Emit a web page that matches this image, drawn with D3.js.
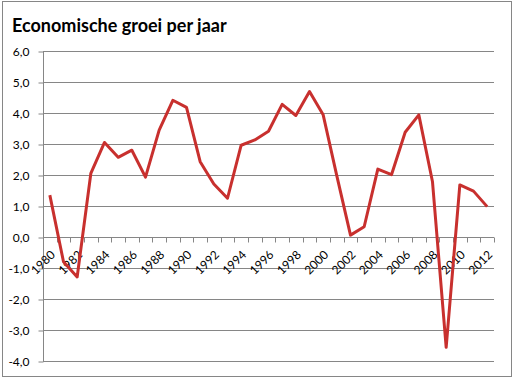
<!DOCTYPE html>
<html><head><meta charset="utf-8">
<script src="https://cdn.jsdelivr.net/npm/d3@7"></script>
<style>
body{margin:0;background:#fff;}
svg text{font-family:Lato,"Open Sans","Liberation Sans",sans-serif;}
</style></head>
<body><svg id="c" width="514" height="379"></svg>
<script>
const title = "Economische groei per jaar";
const years = d3.range(1980, 2013);
const growth = [1.35,-0.8,-1.29,2.05,3.05,2.57,2.8,1.93,3.45,4.41,4.18,2.43,1.71,1.25,2.96,3.13,3.41,4.28,3.92,4.69,3.94,1.97,0.06,0.33,2.19,2.01,3.38,3.94,1.78,-3.56,1.68,1.48,0.98];
const yTicks = [6,5,4,3,2,1,0,-1,-2,-3,-4];
const xLabels = years.filter(y => y % 2 === 0);

const svg = d3.select("#c");
svg.append("rect").attr("x",2.5).attr("y",1.5).attr("width",509).attr("height",375)
  .attr("fill","#fff").attr("stroke","#868686").attr("stroke-width",1);

const L=43, R=494, T=51, B=361;
const x = d3.scaleBand().domain(years).range([L,R]);
const y = d3.scaleLinear().domain([-4,6]).range([B,T]);

// gridlines
svg.append("g").selectAll("line").data(yTicks).join("line")
  .attr("x1",L).attr("x2",R).attr("y1",d=>Math.round(y(d))+0.5).attr("y2",d=>Math.round(y(d))+0.5)
  .attr("stroke","#868686").attr("stroke-width",1);

// y axis
const yAxis = d3.axisLeft(y).tickValues(yTicks).tickSize(5).tickPadding(9)
  .tickFormat(d => d3.format(".1f")(d).replace(".",",").replace("−","-"));
const gy = svg.append("g").attr("transform",`translate(${L+0.5},0.5)`).call(yAxis);
gy.select(".domain").attr("stroke","#868686").attr("d",`M0,${T}V${B}`);
gy.selectAll(".tick line").attr("stroke","#868686");
gy.selectAll(".tick text").attr("fill","#000").attr("font-size","12px").attr("dy","0.35em");

// x axis at zero
const gx = svg.append("g").attr("transform",`translate(0,${Math.round(y(0))+0.5})`);
gx.append("line").attr("x1",L).attr("x2",R).attr("stroke","#868686");
const bounds = years.map(d=>x(d)).concat([R]);
gx.selectAll("line.t").data(bounds).join("line").attr("class","t")
  .attr("x1",d=>Math.round(d)+0.5).attr("x2",d=>Math.round(d)+0.5).attr("y1",0).attr("y2",5)
  .attr("stroke","#868686");
gx.selectAll("text").data(xLabels).join("text")
  .attr("transform",d=>`translate(${x(d)+x.bandwidth()/2+3},${15}) rotate(-45)`)
  .attr("text-anchor","end").attr("dy","0.35em").attr("font-size","12px").attr("fill","#000")
  .text(d=>d);

// line
const line = d3.line().x((d,i)=>x(years[i])+x.bandwidth()/2).y(d=>y(d));
svg.append("path").datum(growth).attr("d",line).attr("fill","none")
  .attr("stroke","#c8302e").attr("stroke-width",3).attr("stroke-linejoin","round");

// title
svg.append("text").attr("x",12).attr("y",32).attr("font-size","18px").attr("font-weight","bold")
  .attr("fill","#000").text(title);
</script></body></html>
